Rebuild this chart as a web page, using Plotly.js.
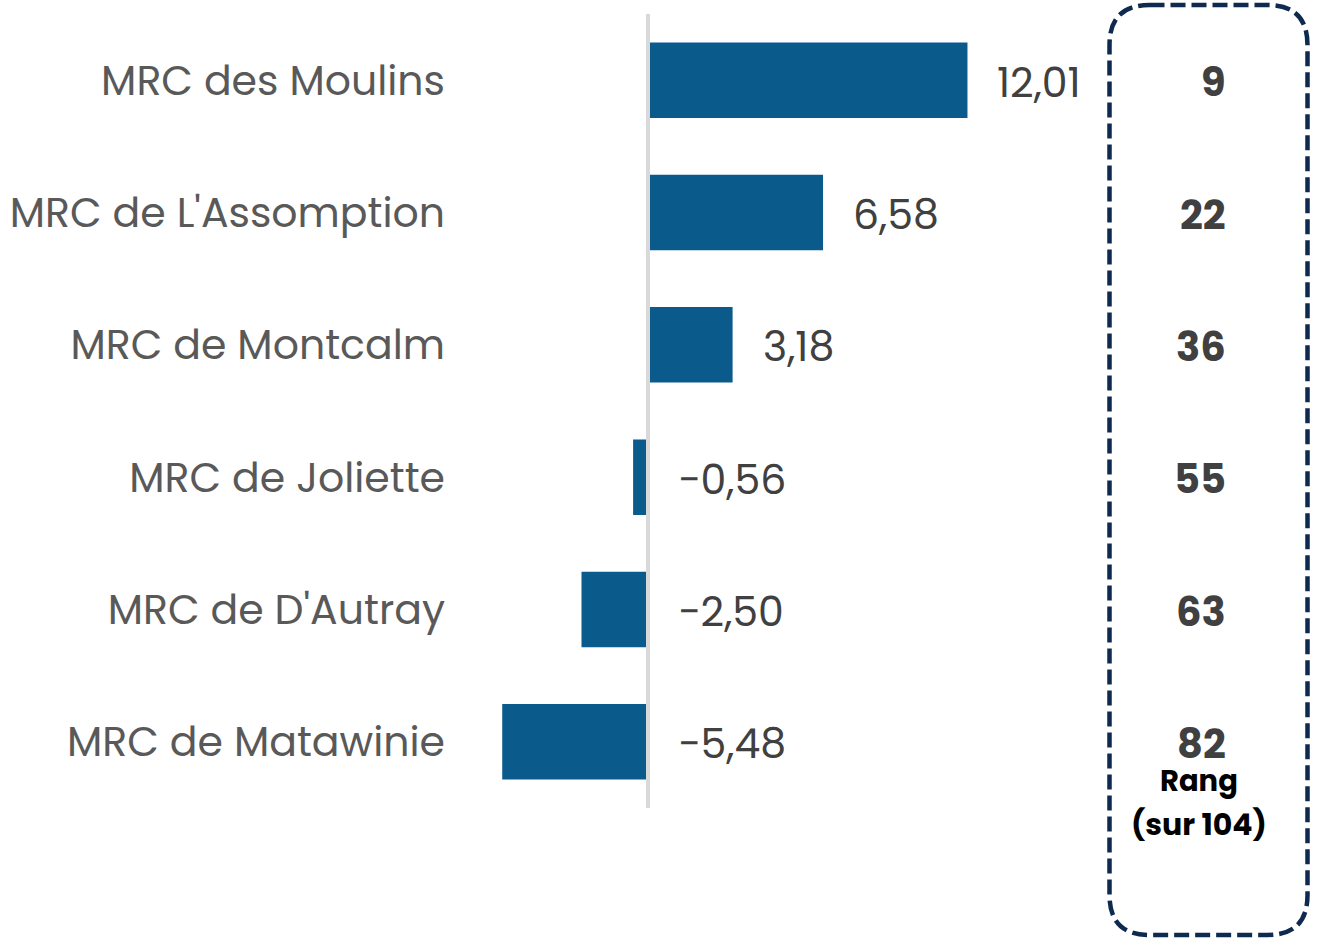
<!DOCTYPE html>
<html>
<head>
<meta charset="utf-8">
<script src="https://cdn.plot.ly/plotly-3.0.1.min.js"></script>
<style>html,body{margin:0;padding:0;background:#fff;}#chart{width:1317px;height:938px;}</style>
</head>
<body>
<div id="chart"></div>
<script>
const categories = ["MRC des Moulins", "MRC de L'Assomption", "MRC de Montcalm", "MRC de Joliette", "MRC de D'Autray", "MRC de Matawinie"];
const values = [12.01, 6.58, 3.18, -0.56, -2.50, -5.48];
const valueLabels = ["12,01", "6,58", "3,18", "\u22120,56", "\u22122,50", "\u22125,48"];
const ranks = ["9", "22", "36", "55", "63", "82"];
const rankCaptionLines = ["Rang", "(sur 104)"];

const FONT = "Poppins, 'Open Sans', sans-serif";
const pxPerUnit = 26.6;
const xMin = -(648 - 460) / pxPerUnit;
const xMax = (1100 - 648) / pxPerUnit;

function xp(px) { return (px - 460) / 640; }
function yp(py) { return (808 - py) / 794; }

const annotations = [];
categories.forEach((c, i) => {
  annotations.push({
    x: Math.max(values[i], 0), y: c, xref: 'x', yref: 'y',
    text: valueLabels[i], showarrow: false, xanchor: 'left', xshift: 28, yshift: -2,
    font: {family: FONT, size: 41, color: '#404040'}
  });
  annotations.push({
    x: xp(1228), y: c, xref: 'paper', yref: 'y',
    text: '<b>' + ranks[i] + '</b>', showarrow: false, xanchor: 'right', yshift: -2, height: 38,
    font: {family: FONT, size: 40, color: '#404040'}
  });
});
annotations.push({
  x: xp(1199), y: yp(781), xref: 'paper', yref: 'paper',
  text: '<b>' + rankCaptionLines[0] + '</b>', showarrow: false, xanchor: 'center', yanchor: 'middle',
  font: {family: FONT, size: 29, color: '#000000'}
});
annotations.push({
  x: xp(1199), y: yp(824), xref: 'paper', yref: 'paper',
  text: '<b>' + rankCaptionLines[1] + '</b>', showarrow: false, xanchor: 'center', yanchor: 'middle',
  font: {family: FONT, size: 30, color: '#000000'}
});

// rounded dashed rectangle
const L = xp(1109.5), R = xp(1307.5), T = yp(5), B = yp(935);
const rx = 40 / 640, ry = 40 / 794;
const path = `M ${L + rx} ${T} L ${R - rx} ${T} Q ${R} ${T} ${R} ${T - ry} L ${R} ${B + ry} Q ${R} ${B} ${R - rx} ${B} L ${L + rx} ${B} Q ${L} ${B} ${L} ${B + ry} L ${L} ${T - ry} Q ${L} ${T} ${L + rx} ${T} Z`;

const data = [{
  type: 'bar', orientation: 'h',
  x: values, y: categories,
  marker: {color: '#0b5a8c'},
  width: 0.57,
  hoverinfo: 'x+y'
}];

const layout = {
  width: 1317, height: 938,
  margin: {l: 460, r: 217, t: 14, b: 130},
  paper_bgcolor: '#ffffff', plot_bgcolor: '#ffffff',
  showlegend: false,
  xaxis: {range: [xMin, xMax], showgrid: false, showticklabels: false, zeroline: false,
          showline: false, ticks: ''},
  yaxis: {type: 'category', autorange: 'reversed', showgrid: false, zeroline: false, showline: false,
          ticks: '', ticklabelstandoff: 14,
          tickfont: {family: FONT, size: 41, color: '#595959'}},
  annotations: annotations,
  shapes: [
    {type: 'line', xref: 'x', yref: 'paper', x0: 0, x1: 0, y0: 0, y1: 1, layer: 'above',
     line: {color: '#d9d9d9', width: 4}},
    {type: 'path', path: path, xref: 'paper', yref: 'paper',
     line: {color: '#0e2a4f', width: 4.5, dash: '15px,6px'}, fillcolor: 'rgba(0,0,0,0)'}
  ]
};

Plotly.newPlot('chart', data, layout, {displayModeBar: false, staticPlot: true});
</script>
</body>
</html>
